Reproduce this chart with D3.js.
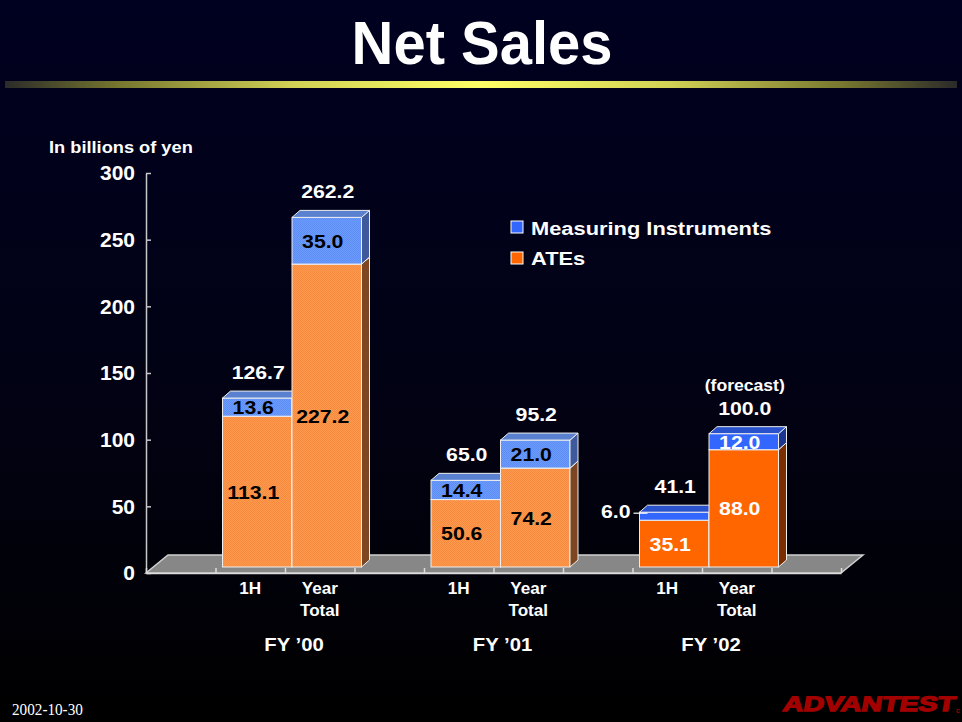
<!DOCTYPE html>
<html lang="en">
<head>
<meta charset="UTF-8">
<script src="https://cdnjs.cloudflare.com/ajax/libs/d3/7.8.4/d3.min.js"></script>
<title>Net Sales</title>
<style>
  body { margin: 0; background: #000; }
  svg { display: block; }
</style>
</head>
<body>
<script>
const W = 962, H = 722

// chart data
const years = ["FY \u201900", "FY \u201901", "FY \u201902"]
const halves = ["1H", "Year Total"]
const ates = [113.1, 227.2, 50.6, 74.2, 35.1, 88.0]
const instruments = [13.6, 35.0, 14.4, 21.0, 6.0, 12.0]
const totals = [126.7, 262.2, 65.0, 95.2, 41.1, 100.0]
const forecast = [false, false, false, false, false, true]
const yTicks = [0, 50, 100, 150, 200, 250, 300]
const seriesNames = ["Measuring Instruments", "ATEs"]

const FONT = "'Liberation Sans', Arial, sans-serif"

// one empty slot before each year and one at the end
let slots = []
years.forEach((yr, i) => {
  slots.push("gap" + i)
  halves.forEach(h => slots.push(yr + "|" + h))
})
slots.push("gapEnd")
const barSlots = slots.filter(s => !s.startsWith("gap"))

let rows = barSlots.map((s, i) => ({
  slot: s,
  year: s.split("|")[0],
  half: s.split("|")[1],
  ate: ates[i],
  mi: instruments[i],
  total: totals[i],
  forecast: forecast[i]
}))

let svg = d3.select("body").append("svg")
  .attr("width", W)
  .attr("height", H)
let defs = svg.append("defs")

// background
let bg = defs.append("linearGradient").attr("id", "bg")
  .attr("x1", 0).attr("y1", 0).attr("x2", 0).attr("y2", 1)
bg.append("stop").attr("offset", 0).attr("stop-color", "#000020")
bg.append("stop").attr("offset", 0.55).attr("stop-color", "#020214")
bg.append("stop").attr("offset", 1).attr("stop-color", "#000000")
svg.append("rect").attr("width", W).attr("height", H).attr("fill", "url(#bg)")

let bar = defs.append("linearGradient").attr("id", "yellowBar")
bar.append("stop").attr("offset", 0).attr("stop-color", "#2a2a2a")
bar.append("stop").attr("offset", 0.12).attr("stop-color", "#77772f")
bar.append("stop").attr("offset", 0.3).attr("stop-color", "#d0d055")
bar.append("stop").attr("offset", 0.5).attr("stop-color", "#ffff66")
bar.append("stop").attr("offset", 0.7).attr("stop-color", "#d0d055")
bar.append("stop").attr("offset", 0.88).attr("stop-color", "#77772f")
bar.append("stop").attr("offset", 1).attr("stop-color", "#2a2a2a")
svg.append("rect").attr("x", 5).attr("y", 81).attr("width", 952).attr("height", 7)
  .attr("fill", "url(#yellowBar)")

// dithered fills for the older years
function dither(id, a, b) {
  let p = defs.append("pattern").attr("id", id)
    .attr("width", 2).attr("height", 2).attr("patternUnits", "userSpaceOnUse")
  p.append("rect").attr("width", 2).attr("height", 2).attr("fill", a)
  p.append("rect").attr("width", 1).attr("height", 1).attr("fill", b)
  p.append("rect").attr("x", 1).attr("y", 1).attr("width", 1).attr("height", 1).attr("fill", b)
}
dither("ateLight", "#ff9a4c", "#f58a40")
dither("miLight", "#6b9bff", "#5f8ef2")

const palette = {
  light: {
    ate: { front: "url(#ateLight)", side: "#7c4622", top: "#c87a40", text: "#000" },
    mi: { front: "url(#miLight)", side: "#3f5a9c", top: "#5a80d0", text: "#000" }
  },
  solid: {
    ate: { front: "#ff6600", side: "#7a2e00", top: "#cc5200", text: "#fff" },
    mi: { front: "#3366ff", side: "#1c3590", top: "#2a52cc", text: "#fff" }
  }
}
const shade = yr => yr === years[years.length - 1] ? "solid" : "light"

// text helper, slightly widened like the slide
function label(g, x, y, str, size, opt = {}) {
  return g.append("text")
    .attr("transform", `translate(${x},${y}) scale(${opt.sx || 1},1)`)
    .attr("text-anchor", opt.anchor || "middle")
    .attr("font-family", opt.family || FONT)
    .attr("font-weight", opt.weight || "bold")
    .attr("font-style", opt.style || "normal")
    .attr("font-size", size)
    .attr("fill", opt.fill || "#fff")
    .text(str)
}

// title
label(svg, 482, 64, "Net Sales", 61, { sx: 0.95 })

// scales
let yScale = d3.scaleLinear().domain([0, 300]).range([573, 173])
let xScale = d3.scaleBand().domain(slots).range([146, 841])
let xEdge = d3.scaleLinear().domain([0, slots.length]).range([146, 841])
const bw = xScale.bandwidth()
const floorD = { dx: 22, dy: -18 }
const barD = { dx: 8, dy: -7 }
const barOff = { dx: 7, dy: -6 }

// floor
let y0 = yScale(0)
svg.append("polygon")
  .attr("points", [[146, y0], [841, y0], [841 + floorD.dx, y0 + floorD.dy], [146 + floorD.dx, y0 + floorD.dy]].join(" "))
  .attr("fill", "#878787")
  .attr("stroke", "#d0d0d0")
  .attr("stroke-width", 1.5)

// bars
let stacked = d3.stack().keys(["ate", "mi"])(rows)
let barsG = svg.append("g")
rows.forEach((r, i) => {
  let bx = xScale(r.slot) + barOff.dx
  stacked.forEach(series => {
    let d = series[i]
    let col = palette[shade(r.year)][series.key]
    let top = yScale(d[1]) + barOff.dy
    let bot = yScale(d[0]) + barOff.dy
    let g = barsG.append("g").attr("stroke", "#eeeeee").attr("stroke-width", 1)
    g.append("rect")
      .attr("x", bx).attr("y", top)
      .attr("width", bw).attr("height", bot - top)
      .attr("fill", col.front)
    g.append("polygon")
      .attr("points", [[bx + bw, bot], [bx + bw + barD.dx, bot + barD.dy], [bx + bw + barD.dx, top + barD.dy], [bx + bw, top]].join(" "))
      .attr("fill", col.side)
    g.append("polygon")
      .attr("points", [[bx, top], [bx + barD.dx, top + barD.dy], [bx + bw + barD.dx, top + barD.dy], [bx + bw, top]].join(" "))
      .attr("fill", col.top)
  })
})

// axes
let yAxis = svg.append("g")
  .attr("transform", "translate(146,0)")
  .call(d3.axisLeft(yScale).tickValues(yTicks).tickSizeInner(-5).tickSizeOuter(0).tickPadding(11))
yAxis.selectAll("path, line").attr("stroke", "#c8c8c8").attr("stroke-width", 1.5)
yAxis.selectAll("text")
  .attr("fill", "#fff")
  .attr("font-family", FONT)
  .attr("font-weight", "bold")
  .attr("font-size", 21)

let xAxis = svg.append("g")
  .attr("transform", `translate(0,${y0})`)
  .call(d3.axisBottom(xEdge).tickValues(d3.range(slots.length + 1)).tickSizeInner(-5).tickSizeOuter(0).tickFormat(""))
xAxis.selectAll("path, line").attr("stroke", "#dcdcdc").attr("stroke-width", 1.5)

label(svg, 49, 153, "In billions of yen", 16, { anchor: "start", sx: 1.14 })

// value labels
let labG = svg.append("g")
rows.forEach((r, i) => {
  let cx = xScale(r.slot) + barOff.dx + bw / 2
  stacked.forEach(series => {
    let d = series[i]
    let col = palette[shade(r.year)][series.key]
    let top = yScale(d[1]) + barOff.dy
    let bot = yScale(d[0]) + barOff.dy
    let mid = (top + bot) / 2
    let txt = d3.format(".1f")(d[1] - d[0])
    if (bot - top < 12) {
      // too thin: put the value to the left with a leader
      let bx = xScale(r.slot) + barOff.dx
      labG.append("line")
        .attr("x1", bx - 6).attr("x2", bx + 8)
        .attr("y1", mid - 3).attr("y2", mid - 3)
        .attr("stroke", "#fff").attr("stroke-width", 1.2)
      label(labG, bx - 9, mid + 2, txt, 19, { anchor: "end", sx: 1.12 })
    } else {
      label(labG, cx - 4, mid + 7, txt, 19, { sx: 1.12, fill: col.text })
    }
  })
  let tTop = yScale(r.total) + barOff.dy
  label(labG, cx + 1, tTop - 19, d3.format(".1f")(r.total), 19, { sx: 1.12 })
  if (r.forecast) label(labG, cx + 1, tTop - 43, "(forecast)", 16, { sx: 1.1 })

  // category label under the floor
  let words = r.half.split(" ")
  words.forEach((w, k) => label(labG, xScale(r.slot) + bw / 2, 594 + k * 22, w, 16, { sx: 1.07 }))
})

// fiscal year labels
years.forEach(yr => {
  let cx = xScale(yr + "|" + halves[0]) + bw + 9
  label(svg, cx, 651, yr, 19, { sx: 1.07 })
})

// legend
let legend = svg.append("g")
let legendKeys = ["mi", "ate"]
legendKeys.forEach((k, i) => {
  legend.append("rect")
    .attr("x", 511).attr("y", 221 + i * 31)
    .attr("width", 12).attr("height", 12)
    .attr("fill", palette.solid[k].front)
    .attr("stroke", "#fff").attr("stroke-width", 1)
  label(legend, 531, 235 + i * 30, seriesNames[i], 19, { anchor: "start", sx: 1.15 })
})

// footer
label(svg, 12, 715, "2002-10-30", 16, { anchor: "start", weight: "normal", family: "'Liberation Serif', 'Times New Roman', serif", sx: 0.95 })
svg.append("text")
  .attr("transform", "translate(782,711) skewX(-10)")
  .attr("font-family", FONT)
  .attr("font-weight", "bold")
  .attr("font-size", 21)
  .attr("textLength", 172)
  .attr("lengthAdjust", "spacingAndGlyphs")
  .attr("fill", "#a30000")
  .attr("stroke", "#a30000")
  .attr("stroke-width", 1.3)
  .text("ADVANTEST")
label(svg, 958, 713, "c", 7, { fill: "#a30000" })
</script>
</body>
</html>
